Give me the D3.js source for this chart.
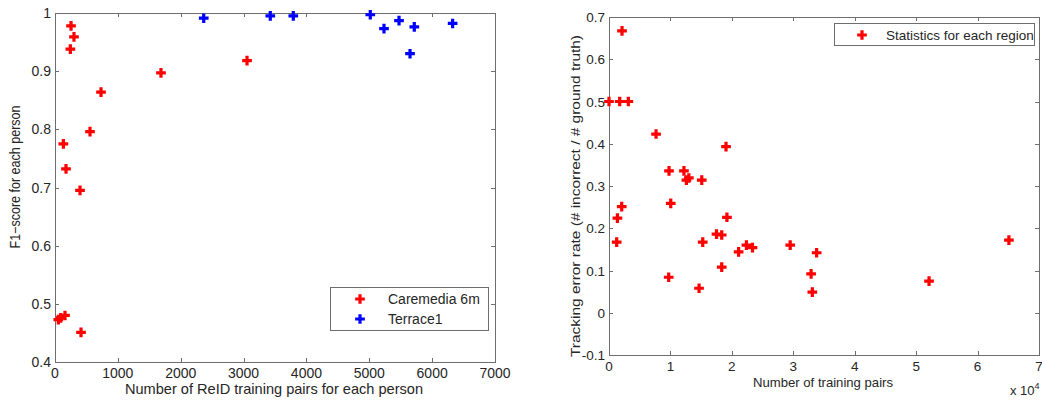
<!DOCTYPE html>
<html>
<head>
<meta charset="utf-8">
<script src="https://cdn.jsdelivr.net/npm/d3@7"></script>
<style>
  html, body { margin: 0; padding: 0; background: #fff; }
  svg text { font-family: "Liberation Sans", Arial, sans-serif; fill: #262626; }
</style>
</head>
<body>
<svg id="chart" width="1042" height="401"></svg>
<script>
// ── Data ─────────────────────────────────────────────────────────────────────
// left panel: ReID training pairs per person vs F1-score
const caremediaX = [53, 91, 159, 133, 175, 244, 255, 302, 398, 414, 557, 732, 1686, 3055];
const caremediaY = [0.473, 0.476, 0.480, 0.775, 0.732, 0.938, 0.978, 0.959, 0.695, 0.451, 0.796, 0.864, 0.897, 0.918];
const terraceX   = [2366, 3425, 3791, 5016, 5234, 5473, 5648, 5716, 6326];
const terraceY   = [0.991, 0.995, 0.995, 0.997, 0.973, 0.987, 0.930, 0.976, 0.982];
const leftXTicks = [0, 1000, 2000, 3000, 4000, 5000, 6000, 7000];
const leftYTicks = [0.4, 0.5, 0.6, 0.7, 0.8, 0.9, 1];

// right panel: training pairs vs tracking error rate
const regionX = [0, 1740, 3150, 2120, 7660, 9770, 12200, 12600, 13000, 15100, 19050, 10050, 2070, 1370,
                 1250, 19200, 17500, 18350, 15260, 21100, 22370, 23360, 18350, 9720, 14660, 29500, 33800,
                 32900, 33100, 52100, 65100];
const regionY = [0.5, 0.5, 0.5, 0.667, 0.423, 0.336, 0.336, 0.314, 0.319, 0.314, 0.393, 0.259, 0.251, 0.224,
                 0.167, 0.226, 0.186, 0.184, 0.167, 0.144, 0.160, 0.154, 0.108, 0.084, 0.058, 0.160, 0.142,
                 0.092, 0.049, 0.075, 0.172];
const rightXTicks = [0, 10000, 20000, 30000, 40000, 50000, 60000, 70000];
const rightYTicks = [-0.1, 0, 0.1, 0.2, 0.3, 0.4, 0.5, 0.6, 0.7];

// ── Style ────────────────────────────────────────────────────────────────────
const AXIS_COLOR = '#6e6e6e';
const TICK_LEN   = 4;
const cross      = d3.symbol().type(d3.symbolCross).size(52);

const svg = d3.select('#chart');

// MATLAB-style box with inward ticks on all four sides
function drawBox(g, x, y, xTicks, yTicks, xFmt, yFmt, fs) {
  const [x0, x1] = x.range();
  const [y0, y1] = y.range();   // y0 = bottom, y1 = top

  g.append('rect')
    .attr('x', x0 + 0.5).attr('y', y1 + 0.5)
    .attr('width', x1 - x0).attr('height', y0 - y1)
    .attr('fill', 'none').attr('stroke', AXIS_COLOR);

  const ticks = g.append('g').attr('stroke', AXIS_COLOR);
  xTicks.forEach(t => {
    const px = Math.round(x(t)) + 0.5;
    ticks.append('line').attr('x1', px).attr('x2', px).attr('y1', y0).attr('y2', y0 - TICK_LEN);
    ticks.append('line').attr('x1', px).attr('x2', px).attr('y1', y1).attr('y2', y1 + TICK_LEN);
  });
  yTicks.forEach(t => {
    const py = Math.round(y(t)) + 0.5;
    ticks.append('line').attr('y1', py).attr('y2', py).attr('x1', x0).attr('x2', x0 + TICK_LEN);
    ticks.append('line').attr('y1', py).attr('y2', py).attr('x1', x1).attr('x2', x1 - TICK_LEN);
  });

  g.selectAll('text.xt').data(xTicks).join('text')
    .attr('class', 'xt')
    .attr('x', d => x(d)).attr('y', y0 + 16)
    .attr('text-anchor', 'middle').attr('font-size', fs)
    .text(xFmt);
  g.selectAll('text.yt').data(yTicks).join('text')
    .attr('class', 'yt')
    .attr('x', x0 - 4).attr('y', d => y(d) + 5)
    .attr('text-anchor', 'end').attr('font-size', fs)
    .text(yFmt);
}

function drawPoints(g, x, y, xs, ys, color) {
  g.selectAll(null).data(xs.map((v, i) => [v, ys[i]])).join('path')
    .attr('d', cross)
    .attr('transform', d => `translate(${x(d[0])},${y(d[1])})`)
    .attr('fill', color);
}

function legendBox(g, x, y, w, h, fs, items) {
  g.append('rect')
    .attr('x', x + 0.5).attr('y', y + 0.5).attr('width', w).attr('height', h)
    .attr('fill', '#fff').attr('stroke', AXIS_COLOR);
  items.forEach(it => {
    const cy = y + it.dy;
    g.append('path').attr('d', cross).attr('fill', it.color)
      .attr('transform', `translate(${x + it.mx},${cy})`);
    g.append('text').attr('x', x + it.tx).attr('y', cy + 5)
      .attr('font-size', fs).text(it.label);
  });
}

function label(g, x, y, txt, len, fs, rotate) {
  return g.append('text')
    .attr('transform', `translate(${x},${y})` + (rotate ? ' rotate(-90)' : ''))
    .attr('text-anchor', 'middle').attr('font-size', fs)
    .attr('textLength', len).attr('lengthAdjust', 'spacingAndGlyphs')
    .text(txt);
}

// ── Left panel ───────────────────────────────────────────────────────────────
const xL = d3.scaleLinear().domain([0, 7000]).range([55, 495]);
const yL = d3.scaleLinear().domain([0.4, 1]).range([362, 13]);
const gL = svg.append('g');

drawBox(gL, xL, yL, leftXTicks, leftYTicks, d => d, d => d, 14);
drawPoints(gL, xL, yL, caremediaX, caremediaY, '#ff0000');
drawPoints(gL, xL, yL, terraceX, terraceY, '#0000ff');

label(gL, 274, 394, 'Number of ReID training pairs for each person', 298, 14.5, false);
label(gL, 20, 177, 'F1\u2212score for each person', 143, 14, true);

legendBox(gL, 330, 287, 158, 43, 14, [
  { label: 'Caremedia 6m', color: '#ff0000', dy: 12, mx: 30, tx: 58 },
  { label: 'Terrace1',     color: '#0000ff', dy: 32, mx: 30, tx: 58 },
]);

// ── Right panel ──────────────────────────────────────────────────────────────
const xR = d3.scaleLinear().domain([0, 70000]).range([609, 1039]);
const yR = d3.scaleLinear().domain([-0.1, 0.7]).range([355, 17]);
const gR = svg.append('g');

drawBox(gR, xR, yR, rightXTicks, rightYTicks, d => d / 10000, d => d < 0 ? '-0.1' : d, 13.5);
drawPoints(gR, xR, yR, regionX, regionY, '#ff0000');

label(gR, 823, 387, 'Number of training pairs', 140, 13.5, false);
const expo = gR.append('text').attr('x', 1010).attr('y', 395).attr('font-size', 13);
expo.append('tspan').text('x 10');
expo.append('tspan').attr('dy', -6).attr('font-size', 9).text('4');
label(gR, 580, 196, 'Tracking error rate (# incorrect / # ground truth)', 322, 13.5, true);

legendBox(gR, 834, 23, 200, 22, 13.5, [
  { label: 'Statistics for each region', color: '#ff0000', dy: 12, mx: 28, tx: 52 },
]);
</script>
</body>
</html>
